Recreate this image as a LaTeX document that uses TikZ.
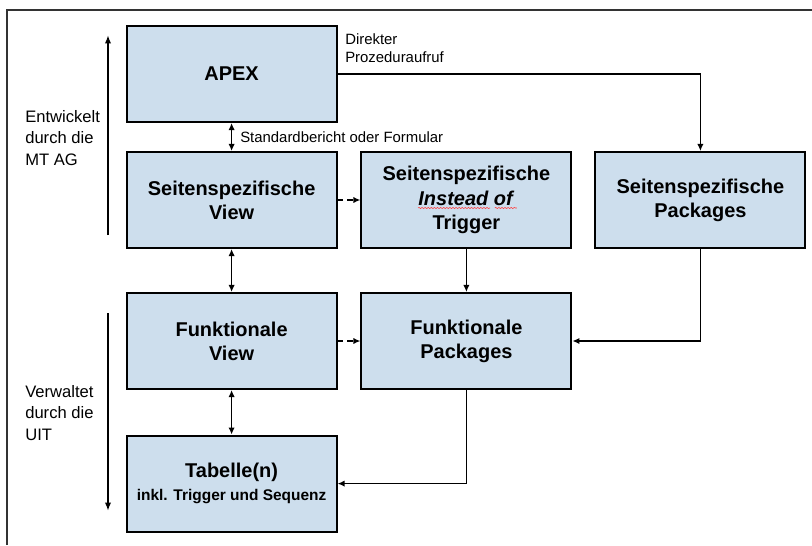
\documentclass[tikz,border=0pt]{standalone}
\usepackage{fontspec}
\setmainfont{Liberation Sans}
\usetikzlibrary{positioning}
\usetikzlibrary{arrows.meta}
\usetikzlibrary{decorations.pathmorphing}
\definecolor{boxblue}{RGB}{205,222,237}
\tikzset{
    mynode/.style = {rectangle, draw=black, line width=1.4pt, fill=boxblue, minimum width=5.25cm, minimum height=2.4cm, align=center, font=\fontsize{14.2}{17.2}\selectfont\bfseries},
    sidetext/.style = {anchor=west, inner sep=0pt, align=left, font=\fontsize{11.8}{15.3}\selectfont},
    smalltext/.style = {inner sep=0pt, align=left, font=\fontsize{10.6}{12.6}\selectfont},
    edgen/.style = {-{Latex[length=5pt,width=4.5pt]}, line width=1pt},
    edgeb/.style = {{Latex[length=5pt,width=4.5pt]}-{Latex[length=5pt,width=4.5pt]}, line width=1pt},
    edged/.style = {edgen, dash pattern=on 4pt off 3pt}, % dashed
    edgel/.style = {-{Latex[length=6pt,width=4.5pt]}, line width=1.3pt}, % side
    frame/.style = {line width=1.1pt, black!80},
    spell/.style = {red!75, line width=0.4pt, decorate, decoration={snake, amplitude=0.45pt, segment length=2.2pt}}
}
\begin{document}
\begin{tikzpicture}
  \useasboundingbox (0,0) rectangle (20.3,-13.625);
  \draw[frame] (0.175,-13.625) -- (0.175,-0.25) -- (20.3,-0.25);

  \node[mynode] at ( 5.79,-1.85) (AP) {APEX};
  \node[mynode] at ( 5.79,-5.0) (SV) {Seitenspezifische\\View};
  \node[mynode] at (11.66,-5.0) (TR) {Seitenspezifische\\\textit{Instead of}\\Trigger};
  \node[mynode] at (17.51,-5.0) (SP) {Seitenspezifische\\Packages};
  \node[mynode] at ( 5.79,-8.525) (FV) {Funktionale\\View};
  \node[mynode] at (11.66,-8.525) (FP) {Funktionale\\Packages};
  \node[mynode] at ( 5.79,-12.09) (TB) {Tabelle(n)\\[-1pt]{\fontsize{11}{13}\selectfont inkl. Trigger und Sequenz}};

  \node[sidetext] at (0.625,-3.45) (dev) {Entwickelt\\durch die\\MT AG};
  \node[sidetext] at (0.625,-10.325) (adm) {Verwaltet\\durch die\\UIT};
  \node[smalltext, anchor=west] at (8.625,-1.2) (call) {Direkter\\Prozeduraufruf};

  \coordinate (up1) at (2.7,-5.875);
  \coordinate (up2) at (2.7,-0.875);
  \coordinate (dn1) at (2.7,-7.825);
  \coordinate (dn2) at (2.7,-12.775);
  \draw[edgel] (up1) -- (up2);
  \draw[edgel] (dn1) -- (dn2);

  \draw[edgeb] (AP) -- node[smalltext, midway, right=0.2cm] {Standardbericht oder Formular} (SV);
  \draw[edgen] (AP.east) -| (SP.north);
  \draw[edged] (SV) -- (TR);
  \draw[edgeb] (SV) -- (FV);
  \draw[edgen] (TR) -- (FP);
  \draw[edgen] (SP.south) |- (FP.east);
  \draw[edged] (FV) -- (FP);
  \draw[edgeb] (FV) -- (TB);
  \draw[edgen] (FP.south) |- (TB.east);

  \draw[spell] ([shift={(-1.21,-0.2)}]TR.center) -- ([shift={(0.59,-0.2)}]TR.center);
  \draw[spell] ([shift={(0.71,-0.2)}]TR.center) -- ([shift={(1.26,-0.2)}]TR.center);
\end{tikzpicture}
\end{document}
